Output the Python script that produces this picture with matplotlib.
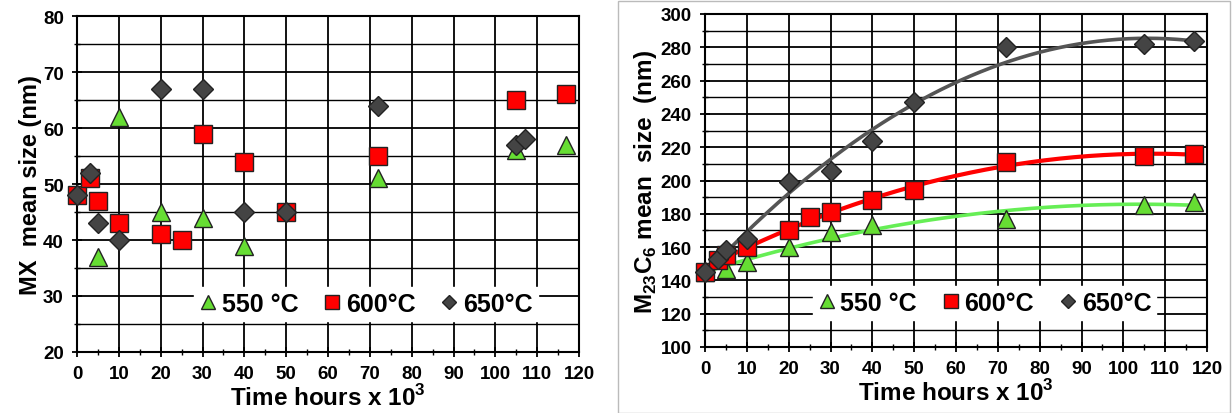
import numpy as np
import matplotlib
matplotlib.use("Agg")
import matplotlib.pyplot as plt
from matplotlib.ticker import MultipleLocator
from matplotlib.patches import Rectangle

plt.rcParams['font.family'] = ['Liberation Sans', 'DejaVu Sans']
plt.rcParams['font.weight'] = 'bold'
plt.rcParams['mathtext.fontset'] = 'custom'
plt.rcParams['mathtext.rm'] = 'Liberation Sans:bold'
plt.rcParams['mathtext.bf'] = 'Liberation Sans:bold'

# MX precipitates (left panel)
mx_550_t = [5, 10, 20, 30, 40, 72, 105, 117]
mx_550_d = [37, 62, 45, 44, 39, 51, 56, 57]
mx_600_t = [0, 3, 5, 10, 20, 25, 30, 40, 50, 72, 105, 117]
mx_600_d = [48, 51, 47, 43, 41, 40, 59, 54, 45, 55, 65, 66]
mx_650_t = [0, 3, 5, 10, 20, 30, 40, 50, 72, 105, 107]
mx_650_d = [48, 52, 43, 40, 67, 67, 45, 45, 64, 57, 58]

# M23C6 carbides (right panel)
mc_550_t = [0, 5, 10, 20, 30, 40, 72, 105, 117]
mc_550_d = [145, 147, 151, 160, 169, 173, 177, 185, 187]
mc_600_t = [0, 3, 5, 10, 20, 25, 30, 40, 50, 72, 105, 117]
mc_600_d = [145, 152, 155, 160, 170, 178, 181, 188, 194, 211, 215, 216]
mc_650_t = [0, 3, 5, 10, 20, 30, 40, 50, 72, 105, 117]
mc_650_d = [145, 153, 158, 165, 199, 206, 224, 247, 280, 282, 284]

labels = ['550 °C', '600°C', '650°C']

GREEN = '#66dd33'
RED = '#ff0000'
DARK = '#444444'

styles = [
    dict(marker='^', color=GREEN, ms=13),
    dict(marker='s', color=RED, ms=12.5),
    dict(marker='D', color=DARK, ms=10),
]

fig = plt.figure(figsize=(12.32, 4.14), dpi=100)
axL = fig.add_axes([77 / 1232, 1 - 353 / 414, 502 / 1232, 336 / 414])
axR = fig.add_axes([705 / 1232, 1 - 348 / 414, 502 / 1232, 333 / 414])

# thin frame around the right panel
fig.patches.append(Rectangle((618 / 1232, 0.0), 1 - 618 / 1232 - 0.002, 1 - 2 / 414,
                             transform=fig.transFigure, fill=False,
                             edgecolor='#bbbbbb', lw=1.0))


def style_axes(ax, ymin, ymax, ymaj, ymin_step, ylabel, ylabelsize):
    ax.set_xlim(0, 120)
    ax.set_ylim(ymin, ymax)
    ax.xaxis.set_major_locator(MultipleLocator(10))
    ax.xaxis.set_minor_locator(MultipleLocator(5))
    ax.yaxis.set_major_locator(MultipleLocator(ymaj))
    ax.yaxis.set_minor_locator(MultipleLocator(ymin_step))
    ax.grid(which='major', axis='both', color='black', lw=1.3)
    ax.grid(which='minor', axis='y', color='black', lw=1.0)
    ax.set_axisbelow(True)
    for s in ax.spines.values():
        s.set_color('black')
        s.set_linewidth(1.5)
    ax.tick_params(which='major', direction='inout', length=7, width=1.3,
                   labelsize=13.5, pad=6)
    ax.tick_params(which='minor', direction='inout', length=5, width=1.0)
    for lab in ax.get_xticklabels() + ax.get_yticklabels():
        lab.set_fontweight('bold')
    ax.set_xlabel('Time hours x 10$^{3}$', fontsize=17.5, fontweight='bold',
                  labelpad=1)
    ax.set_ylabel(ylabel, fontsize=ylabelsize, fontweight='bold', labelpad=1)


def add_legend(ax, handles, center):
    leg = ax.legend(handles, labels, ncol=3, loc='center',
                    bbox_to_anchor=center, frameon=True, fancybox=False,
                    edgecolor='white', facecolor='white', framealpha=1,
                    fontsize=18, handlelength=0.7, handletextpad=0.2,
                    columnspacing=1.0, borderpad=0.2, markerscale=0.75)
    for t in leg.get_texts():
        t.set_fontweight('bold')
    leg.set_zorder(5)


# Left panel: MX
hL = []
for (t, d), st in zip([(mx_550_t, mx_550_d), (mx_600_t, mx_600_d),
                       (mx_650_t, mx_650_d)], styles):
    h, = axL.plot(t, d, ls='none', marker=st['marker'], ms=st['ms'],
                  mfc=st['color'], mec='#222222', mew=1.0, zorder=3,
                  clip_on=False)
    hL.append(h)
style_axes(axL, 20, 80, 10, 5, 'MX  mean size (nm)', 17)
add_legend(axL, hL, (0.576, 0.143))

# Right panel: M23C6 with second-order trend lines
line_cols = ['#66ee55', RED, '#555555']
line_w = [2.6, 3.0, 2.6]
hR = []
for (t, d), st, lc, lw in zip([(mc_550_t, mc_550_d), (mc_600_t, mc_600_d),
                               (mc_650_t, mc_650_d)], styles, line_cols, line_w):
    coef = np.polyfit(t, d, 2)
    tt = np.linspace(0, max(t), 200)
    axR.plot(tt, np.polyval(coef, tt), color=lc, lw=lw, zorder=2)
    h, = axR.plot(t, d, ls='none', marker=st['marker'], ms=st['ms'],
                  mfc=st['color'], mec='#222222', mew=1.0, zorder=3,
                  clip_on=False)
    hR.append(h)
style_axes(axR, 100, 300, 20, 10, 'M$_{23}$C$_{6}$ mean  size  (nm)', 17.5)
add_legend(axR, hR, (0.557, 0.132))

fig.savefig('out.png', dpi=100)
